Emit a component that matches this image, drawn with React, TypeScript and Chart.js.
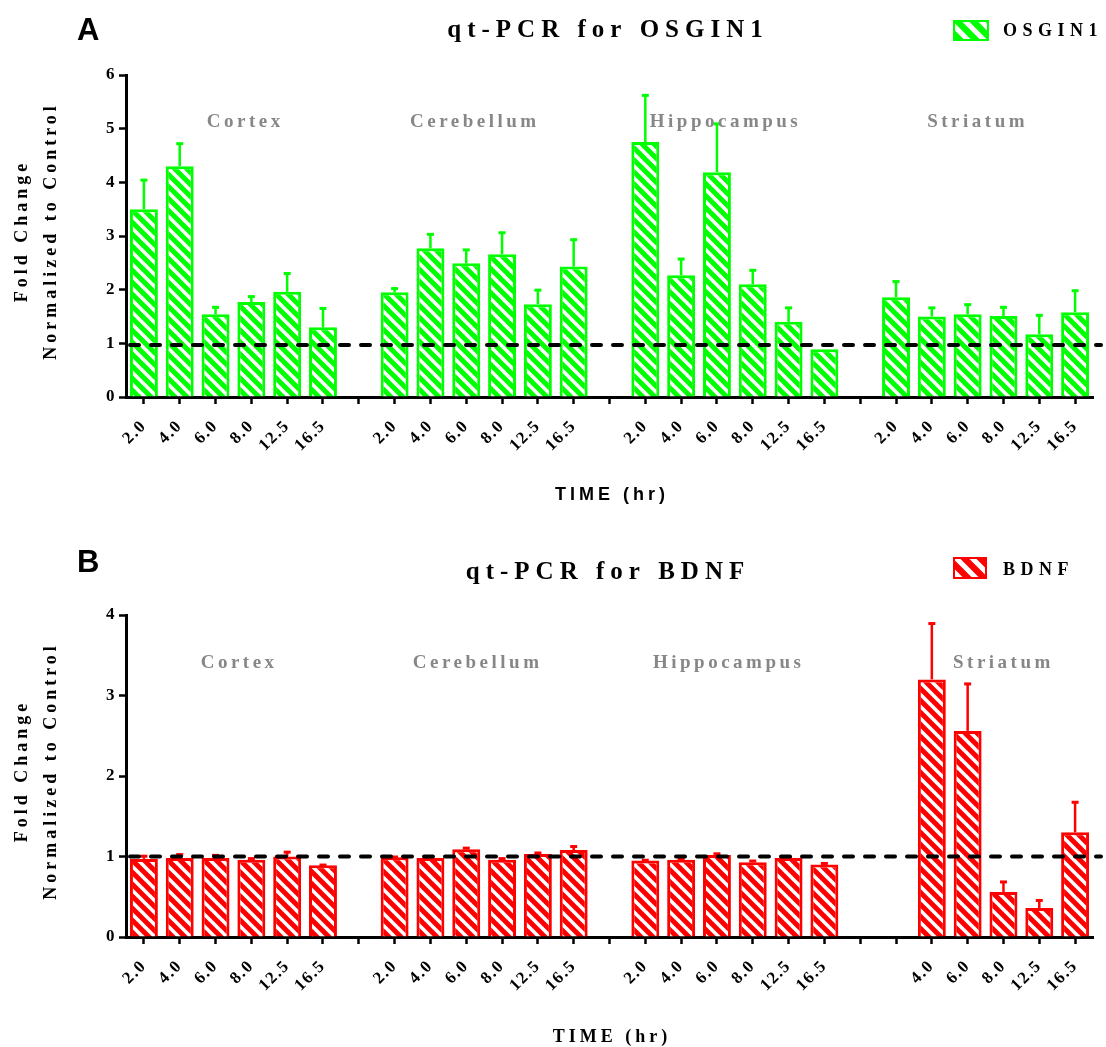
import React, { useEffect, useRef } from 'react';
import { Chart, registerables } from 'chart.js';

Chart.register(...registerables);

// ---------------- data ----------------
const timeLabels = ['2.0', '4.0', '6.0', '8.0', '12.5', '16.5'];
const regionNames = ['Cortex', 'Cerebellum', 'Hippocampus', 'Striatum'];

// OSGIN1 (panel A): mean fold change and upper error (SEM)
const osginCortex = [3.5, 4.3, 1.54, 1.77, 1.96, 1.3];
const osginCortexErr = [0.55, 0.43, 0.14, 0.11, 0.35, 0.36];
const osginCerebellum = [1.95, 2.77, 2.49, 2.66, 1.73, 2.43];
const osginCerebellumErr = [0.08, 0.27, 0.26, 0.41, 0.27, 0.51];
const osginHippocampus = [4.75, 2.27, 4.19, 2.1, 1.4, 0.89];
const osginHippocampusErr = [0.88, 0.31, 0.91, 0.27, 0.27, 0];
const osginStriatum = [1.86, 1.5, 1.54, 1.51, 1.17, 1.58];
const osginStriatumErr = [0.3, 0.17, 0.19, 0.17, 0.36, 0.41];

// BDNF (panel B)
const bdnfCortex = [0.97, 0.98, 0.98, 0.96, 1.0, 0.89];
const bdnfCortexErr = [0.04, 0.05, 0.04, 0.02, 0.06, 0.01];
const bdnfCerebellum = [0.99, 0.98, 1.09, 0.96, 1.03, 1.08];
const bdnfCerebellumErr = [0.01, 0.01, 0.02, 0.02, 0.02, 0.05];
const bdnfHippocampus = [0.95, 0.96, 1.02, 0.93, 0.98, 0.9];
const bdnfHippocampusErr = [0.01, 0.01, 0.02, 0.02, 0.01, 0.02];
const bdnfStriatum: (number | null)[] = [null, 3.2, 2.56, 0.56, 0.36, 1.3];
const bdnfStriatumErr = [0, 0.7, 0.59, 0.13, 0.1, 0.38];
const bdnfStriatumLabels = ['', '4.0', '6.0', '8.0', '12.5', '16.5'];

const yMaxA = 6;
const yMaxB = 4;
const controlLevelA = 0.97;
const controlLevelB = 1;

// ---------------- helpers ----------------
function joinGroups<T>(groups: T[][], gap: T): T[] {
  const out: T[] = [];
  groups.forEach((g, i) => {
    if (i > 0) out.push(gap);
    out.push(...g);
  });
  return out;
}

const SERIF = "'Liberation Serif', 'Times New Roman', serif";
const SANS = "'Liberation Sans', Arial, sans-serif";

function makeHatch(ctx: CanvasRenderingContext2D, color: string, s: number, lw: number) {
  const c = document.createElement('canvas');
  c.width = s;
  c.height = s;
  const g = c.getContext('2d')!;
  g.fillStyle = color;
  g.fillRect(0, 0, s, s);
  g.strokeStyle = '#ffffff';
  g.lineWidth = lw;
  g.beginPath();
  for (const o of [-s, 0, s]) {
    g.moveTo(o - 2, -2);
    g.lineTo(o + s + 2, s + 2);
  }
  g.stroke();
  return ctx.createPattern(c, 'repeat')!;
}

function spacedText(
  ctx: CanvasRenderingContext2D,
  text: string,
  x: number,
  y: number,
  font: string,
  color: string,
  spacing: number,
  align: 'left' | 'center' | 'right',
  rotate = 0,
  baseline: CanvasTextBaseline = 'middle'
) {
  ctx.save();
  ctx.font = font;
  ctx.fillStyle = color;
  (ctx as any).letterSpacing = spacing + 'px';
  ctx.textBaseline = baseline;
  ctx.textAlign = 'left';
  const w = ctx.measureText(text).width - spacing;
  ctx.translate(x, y);
  if (rotate) ctx.rotate(rotate);
  const x0 = align === 'center' ? -w / 2 : align === 'right' ? -w : 0;
  ctx.fillText(text, x0, 0);
  ctx.restore();
}

type Panel = {
  letter: string;
  title: string;
  legend: string;
  color: string;
  labels: string[];
  values: (number | null)[];
  errors: number[];
  yMax: number;
  control: number;
  height: number;
  area: { left: number; top: number; right: number; bottom: number };
  letterBaseline: number;
  titleY: number;
  legendBox: { x: number; y: number; w: number; h: number };
  legendTextY: number;
  xTitleY: number;
  xTitleFont: string;
  groupIdx: number[];
  groupVal: number;
};

const W = 1106;

const panelA: Panel = {
  letter: 'A',
  title: 'qt-PCR for OSGIN1',
  legend: 'OSGIN1',
  color: '#00ff00',
  labels: joinGroups([timeLabels, timeLabels, timeLabels, timeLabels], ''),
  values: joinGroups<number | null>([osginCortex, osginCerebellum, osginHippocampus, osginStriatum], null),
  errors: joinGroups([osginCortexErr, osginCerebellumErr, osginHippocampusErr, osginStriatumErr], 0),
  yMax: yMaxA,
  control: controlLevelA,
  height: 520,
  area: { left: 126, top: 75, right: 1093, bottom: 397 },
  letterBaseline: 40,
  titleY: 31,
  legendBox: { x: 953, y: 20, w: 36, h: 21 },
  legendTextY: 31,
  xTitleY: 495,
  xTitleFont: SANS,
  groupIdx: [2.78, 9.19, 16.19, 23.23],
  groupVal: 5.12,
};

const panelB: Panel = {
  letter: 'B',
  title: 'qt-PCR for BDNF',
  legend: 'BDNF',
  color: '#ff0000',
  labels: joinGroups([timeLabels, timeLabels, timeLabels, bdnfStriatumLabels], ''),
  values: joinGroups<number | null>([bdnfCortex, bdnfCerebellum, bdnfHippocampus, bdnfStriatum], null),
  errors: joinGroups([bdnfCortexErr, bdnfCerebellumErr, bdnfHippocampusErr, bdnfStriatumErr], 0),
  yMax: yMaxB,
  control: controlLevelB,
  height: 517,
  area: { left: 126, top: 85, right: 1093, bottom: 407 },
  letterBaseline: 42,
  titleY: 43,
  legendBox: { x: 953, y: 27, w: 34, h: 22 },
  legendTextY: 40,
  xTitleY: 507,
  xTitleFont: SERIF,
  groupIdx: [2.61, 9.27, 16.28, 23.95],
  groupVal: 3.4,
};

function buildChart(canvas: HTMLCanvasElement, p: Panel) {
  const ctx = canvas.getContext('2d')!;
  const barPattern = makeHatch(ctx, p.color, 12, 3.5);
  const legendPattern = makeHatch(ctx, p.color, 16, 5);

  const decor = {
    id: 'decor' + p.letter,
    beforeDraw(chart: any) {
      (chart.ctx as any).letterSpacing = '1.5px';
    },
    afterDatasetsDraw(chart: any) {
      const c: CanvasRenderingContext2D = chart.ctx;
      const y = chart.scales.y;
      const meta = chart.getDatasetMeta(0);
      // error bars
      c.save();
      c.strokeStyle = p.color;
      c.fillStyle = p.color;
      c.lineWidth = 2.5;
      meta.data.forEach((el: any, i: number) => {
        const v = p.values[i];
        const e = p.errors[i];
        if (v == null || !e) return;
        const yTop = y.getPixelForValue(v + e);
        c.beginPath();
        c.moveTo(el.x, el.y);
        c.lineTo(el.x, yTop);
        c.stroke();
        c.fillRect(el.x - 3.5, yTop - 1, 7, 3);
      });
      c.restore();
      // control dashed line
      const yc = y.getPixelForValue(p.control);
      c.save();
      c.strokeStyle = '#000';
      c.lineWidth = 4;
      c.lineCap = 'round';
      c.setLineDash([9, 12]);
      c.beginPath();
      c.moveTo(chart.chartArea.left + 4, yc);
      c.lineTo(chart.chartArea.right + 8, yc);
      c.stroke();
      c.restore();
    },
    afterDraw(chart: any) {
      const c: CanvasRenderingContext2D = chart.ctx;
      (c as any).letterSpacing = '0px';
      const area = chart.chartArea;
      // panel letter
      spacedText(c, p.letter, 77, p.letterBaseline, `bold 31px ${SANS}`, '#000', 0, 'left', 0, 'alphabetic');
      // title
      spacedText(c, p.title, 605, p.titleY, `bold 25px ${SERIF}`, '#000', 6, 'center');
      // legend
      const lb = p.legendBox;
      c.save();
      c.fillStyle = legendPattern;
      c.fillRect(lb.x, lb.y, lb.w, lb.h);
      c.strokeStyle = p.color;
      c.lineWidth = 2;
      c.strokeRect(lb.x + 1, lb.y + 1, lb.w - 2, lb.h - 2);
      c.restore();
      spacedText(c, p.legend, 1003, p.legendTextY, `bold 18px ${SERIF}`, '#000', 5.5, 'left');
      // y axis title
      const yc = (area.top + area.bottom) / 2 - 3;
      spacedText(c, 'Fold Change', 22, yc, `bold 18px ${SERIF}`, '#000', 4, 'center', -Math.PI / 2);
      spacedText(c, 'Normalized to Control', 51, yc, `bold 18px ${SERIF}`, '#000', 4, 'center', -Math.PI / 2);
      // x axis title
      spacedText(c, 'TIME (hr)', 610, p.xTitleY, `bold 18px ${p.xTitleFont}`, '#000', 4, 'center');
      // region labels
      const xs = chart.scales.x;
      const x0 = xs.getPixelForValue(0);
      const step = xs.getPixelForValue(1) - x0;
      const gy = chart.scales.y.getPixelForValue(p.groupVal);
      regionNames.forEach((name, i) => {
        spacedText(c, name, x0 + p.groupIdx[i] * step, gy, `bold 19px ${SERIF}`, '#878787', 3.5, 'center');
      });
    },
  };

  return new Chart(canvas, {
    type: 'bar',
    data: {
      labels: p.labels,
      datasets: [
        {
          data: p.values as any,
          backgroundColor: barPattern as any,
          borderColor: p.color,
          borderWidth: 3,
          barPercentage: 0.78,
          categoryPercentage: 1,
        },
      ],
    },
    options: {
      responsive: false,
      maintainAspectRatio: false,
      animation: false,
      events: [],
      layout: {
        padding: { left: 0, top: p.area.top, right: W - p.area.right, bottom: 0 },
      },
      plugins: {
        legend: { display: false },
        tooltip: { enabled: false },
        title: { display: false },
      },
      scales: {
        x: {
          offset: true,
          grid: {
            display: true,
            drawOnChartArea: false,
            offset: false,
            tickLength: 7,
            tickWidth: 2.5,
            tickColor: '#000',
          },
          border: { display: true, color: '#000', width: 3 },
          ticks: {
            autoSkip: false,
            maxRotation: 45,
            minRotation: 45,
            padding: 12,
            color: '#000',
            font: { family: SERIF, weight: 'bold', size: 17 },
          },
          afterFit(scale: any) {
            scale.height = p.height - p.area.bottom;
          },
        },
        y: {
          min: 0,
          max: p.yMax,
          grid: {
            display: true,
            drawOnChartArea: false,
            tickLength: 7,
            tickWidth: 2.5,
            tickColor: '#000',
          },
          border: { display: true, color: '#000', width: 3 },
          ticks: {
            stepSize: 1,
            padding: 3,
            color: '#000',
            font: { family: SERIF, weight: 'bold', size: 17 },
          },
          afterFit(scale: any) {
            scale.width = p.area.left;
          },
        },
      },
    },
    plugins: [decor],
  });
}

export default function App() {
  const refA = useRef<HTMLCanvasElement>(null);
  const refB = useRef<HTMLCanvasElement>(null);

  useEffect(() => {
    const charts = [buildChart(refA.current!, panelA), buildChart(refB.current!, panelB)];
    return () => charts.forEach((c) => c.destroy());
  }, []);

  return (
    <div
      style={{
        position: 'absolute',
        left: 0,
        top: 0,
        width: W,
        height: 1047,
        background: '#ffffff',
        overflow: 'hidden',
      }}
    >
      <canvas
        ref={refA}
        width={W}
        height={panelA.height}
        style={{ position: 'absolute', left: 0, top: 0, width: W, height: panelA.height }}
      />
      <canvas
        ref={refB}
        width={W}
        height={panelB.height}
        style={{ position: 'absolute', left: 0, top: 530, width: W, height: panelB.height }}
      />
    </div>
  );
}
